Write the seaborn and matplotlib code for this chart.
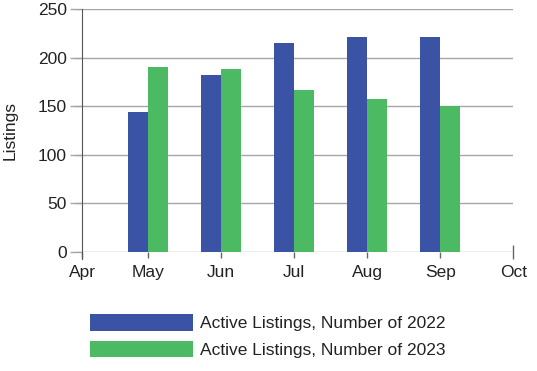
import matplotlib
matplotlib.use('Agg')
from matplotlib import pyplot as plt
import pandas as pd
import seaborn as sns

months = ['Apr', 'May', 'Jun', 'Jul', 'Aug', 'Sep', 'Oct']
listings_2022 = [None, 144, 182, 215, 221, 221, None]
listings_2023 = [None, 190, 188, 167, 157, 150, None]
series_names = ['Active Listings, Number of 2022', 'Active Listings, Number of 2023']
colors = ['#3A53A4', '#4CB963']

df = pd.DataFrame({
    'month': months * 2,
    'series': [series_names[0]] * len(months) + [series_names[1]] * len(months),
    'value': listings_2022 + listings_2023,
})
df['value'] = pd.to_numeric(df['value'])

sns.set_style('white')
plt.rcParams['font.family'] = ['Liberation Sans', 'DejaVu Sans']
fs = 12.5

fig = plt.figure(figsize=(5.37, 3.71), dpi=100)
# the first month sits a bit closer to the next one than the rest do
ax = fig.add_axes([74.6 / 537, 1 - 252 / 371, 438.7 / 537, 243 / 371])

sns.barplot(data=df, x='month', y='value', hue='series', order=months,
            hue_order=series_names, palette=colors, saturation=1,
            width=0.55, linewidth=0, ax=ax)

x0 = 0.105
ax.set_xlim(0, 6)
ax.set_xticks([x0, 1, 2, 3, 4, 5, 6])
ax.set_xticklabels(months)
ax.set_ylim(0, 250)
ax.set_yticks([0, 50, 100, 150, 200, 250])
ax.yaxis.grid(True, color='#a6a6a6', linewidth=1)
ax.set_axisbelow(True)

for s in ['top', 'right', 'bottom']:
    ax.spines[s].set_visible(False)
ax.spines['left'].set_position(('data', x0))
ax.spines['left'].set_color('#555555')
ax.spines['left'].set_bounds(-7, 250)

ax.tick_params(axis='y', length=9, width=1, color='#a6a6a6', pad=2,
               labelsize=fs, labelcolor='#222222', left=True)
ax.tick_params(axis='x', length=4.5, width=1, color='#666666', pad=5,
               labelsize=fs, labelcolor='#222222', bottom=True)
last = ax.xaxis.get_major_ticks()[-1]
last.tick1line.set_marker('|')
last.tick1line.set_markersize(10)

ax.set_xlabel('')
ax.set_ylabel('Listings', fontsize=fs, color='#222222')
ax.yaxis.set_label_coords((18 - 74.6) / 438.7, 0.5)

handles, labels = ax.get_legend_handles_labels()
ax.legend_.remove()
fig.legend(handles, labels, loc='upper left',
           bbox_to_anchor=(90 / 537, 1 - 314 / 371),
           frameon=False, borderpad=0, borderaxespad=0,
           handlelength=5.92, handleheight=1.09, handletextpad=0.4,
           labelspacing=0.55, fontsize=fs, labelcolor='#222222')

fig.savefig('out.png', dpi=100)
